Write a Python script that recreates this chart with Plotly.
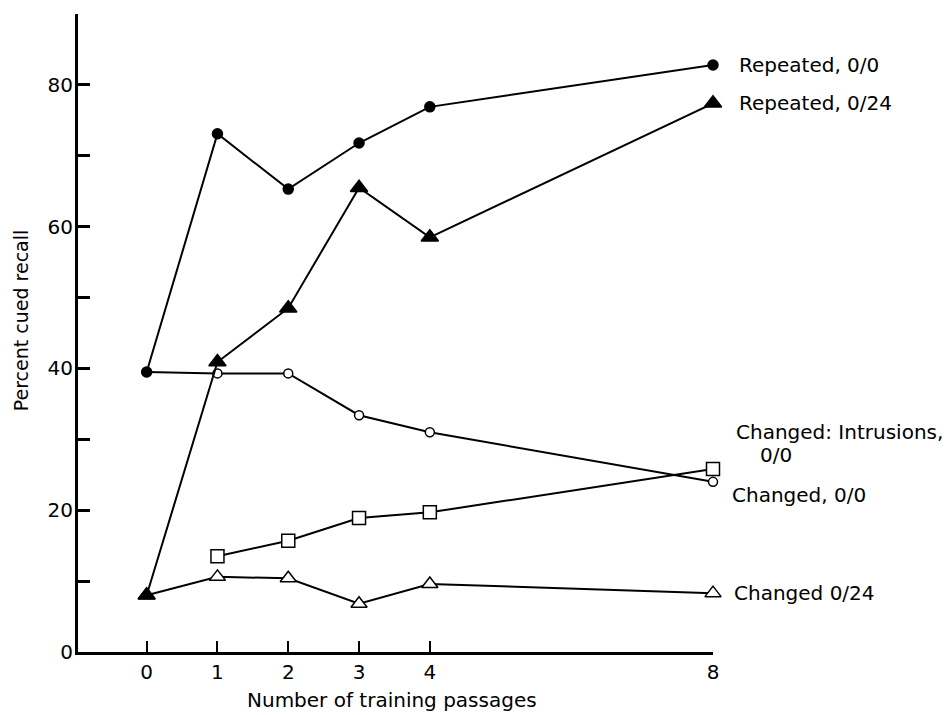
import plotly.graph_objects as go

# Number of training passages
passages = [0, 1, 2, 3, 4, 8]
passages_intrusions = [1, 2, 3, 4, 8]

# Percent cued recall per condition
repeated_00 = [39.5, 73.1, 65.3, 71.8, 76.9, 82.8]
repeated_024 = [8.0, 40.9, 48.5, 65.5, 58.5, 77.4]
changed_00 = [39.5, 39.3, 39.3, 33.4, 31.0, 24.0]
changed_intrusions_00 = [13.5, 15.7, 18.9, 19.7, 25.8]
changed_024 = [8.0, 10.6, 10.4, 6.8, 9.6, 8.3]

x_ticks = [0, 1, 2, 3, 4, 8]
y_ticks = [0, 10, 20, 30, 40, 50, 60, 70, 80, 90]
y_ticktext = ["0", "", "20", "", "40", "", "60", "", "80", ""]

FONT = "DejaVu Sans"
INK = "black"

fig = go.Figure()


def add_series(xs, ys, symbol, size, fill, line_w=1.5):
    fig.add_trace(go.Scatter(
        x=xs, y=ys, mode="lines+markers",
        line=dict(color=INK, width=2),
        marker=dict(symbol=symbol, size=size, color=fill,
                    line=dict(color=INK, width=line_w)),
        cliponaxis=False, showlegend=False, hoverinfo="x+y",
    ))


add_series(passages, changed_024, "triangle-up", 14, "white")
add_series(passages_intrusions, changed_intrusions_00, "square", 13, "white")
add_series(passages, changed_00, "circle", 9, "white")
add_series(passages, repeated_024, "triangle-up", 15, INK)
add_series(passages, repeated_00, "circle", 10, INK)

# Series labels to the right of the last point
labels = [
    ("Repeated, 0/0", 24, 82.8),
    ("Repeated, 0/24", 24, 77.4),
    ("Changed: Intrusions,", 21, 31.0),
    ("0/0", 45, 27.8),
    ("Changed, 0/0", 17, 22.1),
    ("Changed 0/24", 19, 8.3),
]
for text, shift, yv in labels:
    fig.add_annotation(x=8, y=yv, xref="x", yref="y", text=text,
                       showarrow=False, xanchor="left", yanchor="middle",
                       xshift=shift, font=dict(family=FONT, size=20, color=INK))

# Axis titles
fig.add_annotation(x=-57 / 635, y=0.52, xref="paper", yref="paper",
                   text="Percent cued recall", textangle=-90, showarrow=False,
                   xanchor="center", yanchor="middle",
                   font=dict(family=FONT, size=19, color=INK))
fig.add_annotation(x=(391.5 - 78) / 635, y=-48 / 638, xref="paper", yref="paper",
                   text="Number of training passages", showarrow=False,
                   xanchor="center", yanchor="middle",
                   font=dict(family=FONT, size=20, color=INK))

fig.update_layout(
    width=950, height=715,
    margin=dict(l=78, r=237, t=14, b=63),
    paper_bgcolor="white", plot_bgcolor="white",
    font=dict(family=FONT, size=20, color=INK),
    xaxis=dict(range=[-0.97, 8], tickvals=x_ticks,
               ticktext=[str(v) for v in x_ticks],
               showgrid=False, zeroline=False, showline=True,
               linecolor=INK, linewidth=2.5, ticks="inside", ticklen=11,
               tickwidth=2, tickcolor=INK, ticklabelstandoff=0),
    yaxis=dict(range=[0, 90], tickvals=y_ticks, ticktext=y_ticktext,
               showgrid=False, zeroline=False, showline=True,
               linecolor=INK, linewidth=3, ticks="inside", ticklen=12,
               tickwidth=2.5, tickcolor=INK, ticklabelstandoff=-2),
)

fig.write_html("out.html")
